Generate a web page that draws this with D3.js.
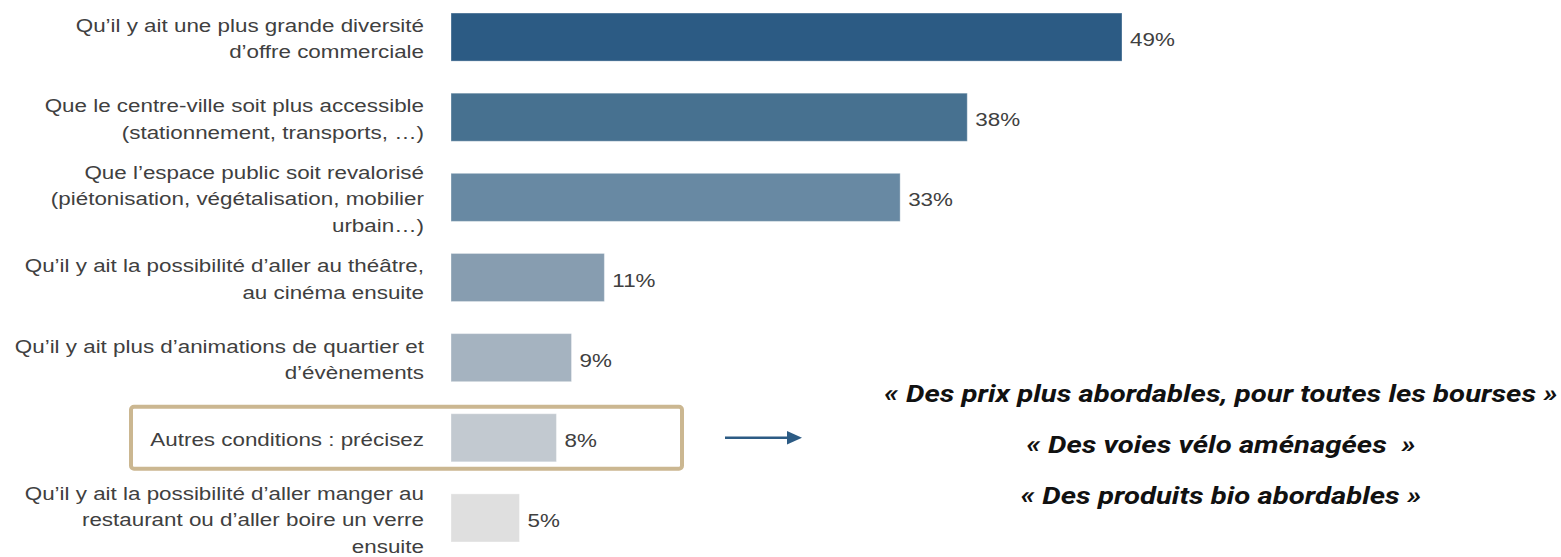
<!DOCTYPE html>
<html>
<head>
<meta charset="utf-8">
<script src="https://cdn.jsdelivr.net/npm/d3@7"></script>
<style>
  body { margin: 0; background: #fff; }
  svg { display: block; }
  .label, .value { font-family: "Liberation Sans", Arial, sans-serif; font-size: 17.5px; fill: #404040; }
  .quote { font-family: Roboto, "Open Sans", sans-serif; font-size: 23px; font-weight: bold; font-style: italic; fill: #111; white-space: pre; }
</style>
</head>
<body>
<svg></svg>
<script>
var width = 1561,
    height = 557;

// categories (one entry per line of the label)
var categories = [
    ['Qu\u2019il y ait une plus grande diversité', 'd\u2019offre commerciale'],
    ['Que le centre-ville soit plus accessible', '(stationnement, transports, \u2026)'],
    ['Que l\u2019espace public soit revalorisé', '(piétonisation, végétalisation, mobilier', 'urbain\u2026)'],
    ['Qu\u2019il y ait la possibilité d\u2019aller au théâtre,', 'au cinéma ensuite'],
    ['Qu\u2019il y ait plus d\u2019animations de quartier et', 'd\u2019évènements'],
    ['Autres conditions : précisez'],
    ['Qu\u2019il y ait la possibilité d\u2019aller manger au', 'restaurant ou d\u2019aller boire un verre', 'ensuite']
];
var values = [49, 37.7, 32.8, 11.2, 8.8, 7.7, 5.0];
var colors = ['#2c5b84', '#477190', '#6889a3', '#879db0', '#a5b3c0', '#c2c9d0', '#dfdfdf'];
var highlighted = 5;
var quotes = [
    '\u00ab Des prix plus abordables, pour toutes les bourses \u00bb',
    '\u00ab Des voies vélo aménagées  \u00bb',
    '\u00ab Des produits bio abordables \u00bb'
];

// the picture's text is drawn wider than the fonts are
var sx = 1.28;

var svg = d3.select('svg')
    .attr('width', width)
    .attr('height', height);

var x = d3.scaleLinear().domain([0, 49]).range([451, 1122]),
    y = d3.scaleBand().domain(d3.range(values.length)).range([-3, 558])
        .paddingInner(0.4).paddingOuter(0.2);

var lineH = 26.5;

function place(px, py, k) {
    return 'translate(' + px + ',' + py + ') scale(' + (k || sx) + ',1)';
}

// bars
svg.selectAll('.bar')
    .data(values)
    .enter().append('rect')
    .attr('class', 'bar')
    .attr('x', x(0))
    .attr('y', function (d, i) { return y(i); })
    .attr('width', function (d) { return x(d) - x(0); })
    .attr('height', y.bandwidth())
    .attr('fill', function (d, i) { return colors[i]; })
    .attr('stroke', '#ffffff')
    .attr('stroke-opacity', 0.35)
    .attr('stroke-width', 1);

// value labels
svg.selectAll('.value')
    .data(values)
    .enter().append('text')
    .attr('class', 'value')
    .attr('transform', function (d, i) {
        return place(x(d) + 8, y(i) + y.bandwidth() / 2 + 3);
    })
    .attr('dy', '0.35em')
    .text(function (d) { return Math.round(d) + '%'; });

// category labels, one text per line
var lines = [];
categories.forEach(function (d, i) {
    var c = y(i) + y.bandwidth() / 2 + 2;
    d.forEach(function (t, j) {
        lines.push({ t: t, y: c + (j - (d.length - 1) / 2) * lineH });
    });
});

svg.selectAll('.label')
    .data(lines)
    .enter().append('text')
    .attr('class', 'label')
    .attr('text-anchor', 'end')
    .attr('transform', function (d) { return place(424, d.y); })
    .attr('dy', '0.35em')
    .text(function (d) { return d.t; });

// highlight box round "Autres conditions"
var hy = y(highlighted);
svg.append('rect')
    .attr('x', 131)
    .attr('y', hy - 7)
    .attr('width', 551)
    .attr('height', y.bandwidth() + 14)
    .attr('rx', 3)
    .attr('fill', 'none')
    .attr('stroke', '#cbb791')
    .attr('stroke-width', 4);

// arrow
var ay = hy + y.bandwidth() / 2;
svg.append('defs').append('marker')
    .attr('id', 'head')
    .attr('viewBox', '0 0 10 10')
    .attr('refX', 0).attr('refY', 5)
    .attr('markerWidth', 6).attr('markerHeight', 6)
    .attr('markerUnits', 'strokeWidth')
    .attr('orient', 'auto')
    .append('path')
    .attr('d', 'M0,0.5L10,5L0,9.5z')
    .attr('fill', '#2c5b84');

svg.append('line')
    .attr('x1', 725).attr('y1', ay)
    .attr('x2', 787).attr('y2', ay)
    .attr('stroke', '#2c5b84')
    .attr('stroke-width', 2.5)
    .attr('marker-end', 'url(#head)');

// verbatims
svg.selectAll('.quote')
    .data(quotes)
    .enter().append('text')
    .attr('class', 'quote')
    .attr('text-anchor', 'middle')
    .attr('transform', function (d, i) { return place(1221, ay - 44 + i * 51, 1.275); })
    .attr('dy', '0.35em')
    .text(function (d) { return d; });
</script>
</body>
</html>
